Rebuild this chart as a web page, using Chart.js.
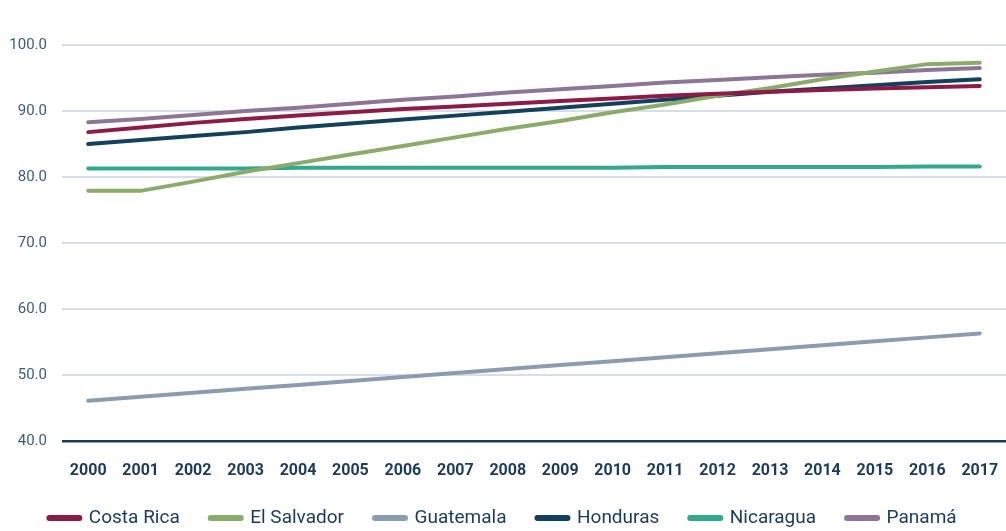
<!DOCTYPE html>
<html>
<head>
<meta charset="utf-8">
<script src="https://cdn.jsdelivr.net/npm/chart.js@4"></script>
<style>
  html, body { margin: 0; padding: 0; background: #fff; }
  #wrap { width: 1006px; height: 531px; }
</style>
</head>
<body>
<div id="wrap"><canvas id="lifeChart"></canvas></div>
<script>
const years = ['2000', '2001', '2002', '2003', '2004', '2005', '2006', '2007', '2008',
    '2009', '2010', '2011', '2012', '2013', '2014', '2015', '2016', '2017'];

const costaRica = [86.8, 87.5, 88.2, 88.8, 89.3, 89.8, 90.3, 90.7, 91.1, 91.5, 91.9, 92.3, 92.6, 92.9, 93.2, 93.4, 93.6, 93.8];
const elSalvador = [77.9, 77.9, 79.3, 80.8, 82.1, 83.4, 84.7, 86.0, 87.3, 88.5, 89.8, 91.0, 92.3, 93.5, 94.8, 96.0, 97.1, 97.3];
const guatemala = [46.1, 46.7, 47.3, 47.9, 48.5, 49.1, 49.7, 50.3, 50.9, 51.5, 52.1, 52.7, 53.3, 53.9, 54.5, 55.1, 55.7, 56.3];
const honduras = [85.0, 85.6, 86.2, 86.8, 87.5, 88.1, 88.7, 89.3, 89.9, 90.5, 91.1, 91.7, 92.3, 92.9, 93.4, 93.9, 94.4, 94.8];
const nicaragua = [81.3, 81.3, 81.3, 81.3, 81.4, 81.4, 81.4, 81.4, 81.4, 81.4, 81.4, 81.5, 81.5, 81.5, 81.5, 81.5, 81.6, 81.6];
const panama = [88.3, 88.8, 89.4, 90.0, 90.5, 91.1, 91.7, 92.2, 92.8, 93.3, 93.8, 94.3, 94.7, 95.1, 95.5, 95.8, 96.2, 96.5];

const yTicks = [40, 50, 60, 70, 80, 90, 100];

const navy = '#1b3a5e';

function series(label, data, color) {
    return {
        label: label,
        data: data,
        borderColor: color,
        backgroundColor: color,
        borderWidth: 4,
        borderCapStyle: 'round',
        pointRadius: 0,
        tension: 0
    };
}

const ctx = document.getElementById('lifeChart').getContext('2d');
new Chart(ctx, {
    type: 'line',
    data: {
        labels: years,
        datasets: [
            series('Costa Rica', costaRica, '#8e1b45'),
            series('El Salvador', elSalvador, '#8bab6b'),
            series('Guatemala', guatemala, '#8b9bb0'),
            series('Honduras', honduras, '#14405f'),
            series('Nicaragua', nicaragua, '#32a88d'),
            series('Panamá', panama, '#8c7597')
        ]
    },
    options: {
        responsive: true,
        maintainAspectRatio: false,
        animation: false,
        layout: { padding: { top: 45, right: 0, bottom: -6.5, left: 0 } },
        plugins: {
            tooltip: { enabled: false },
            legend: {
                position: 'bottom',
                labels: {
                    usePointStyle: true,
                    pointStyle: 'line',
                    pointStyleWidth: 30,
                    padding: 31,
                    color: navy,
                    font: { family: 'Roboto', size: 19 },
                    generateLabels: function (chart) {
                        const items = Chart.defaults.plugins.legend.labels.generateLabels(chart);
                        items.forEach(item => {
                            item.lineWidth = 6;
                            item.lineCap = 'round';
                        });
                        return items;
                    }
                }
            }
        },
        scales: {
            x: {
                offset: true,
                grid: { display: false, tickLength: 0 },
                border: { display: false },
                // keep the plot running to the right edge and the legend close below
                afterFit: function (axis) {
                    axis.height = 36.5;
                    axis.paddingLeft = 0;
                    axis.paddingRight = 0;
                },
                ticks: {
                    color: navy,
                    padding: 20,
                    maxRotation: 0,
                    autoSkip: false,
                    font: { family: 'Roboto', size: 16, weight: 'bold' }
                }
            },
            y: {
                min: 40,
                max: 100,
                afterFit: function (axis) { axis.width = 62; },
                afterBuildTicks: function (axis) {
                    axis.ticks = yTicks.map(v => ({ value: v }));
                },
                border: { display: false },
                grid: {
                    drawTicks: false,
                    color: c => c.tick && c.tick.value === 40 ? navy : '#d8dde8',
                    lineWidth: c => c.tick && c.tick.value === 40 ? 2.5 : 2
                },
                ticks: {
                    color: '#3b5b80',
                    padding: 15,
                    font: { family: 'Roboto', size: 15 },
                    callback: v => v.toFixed(1)
                }
            }
        }
    }
});
</script>
</body>
</html>
